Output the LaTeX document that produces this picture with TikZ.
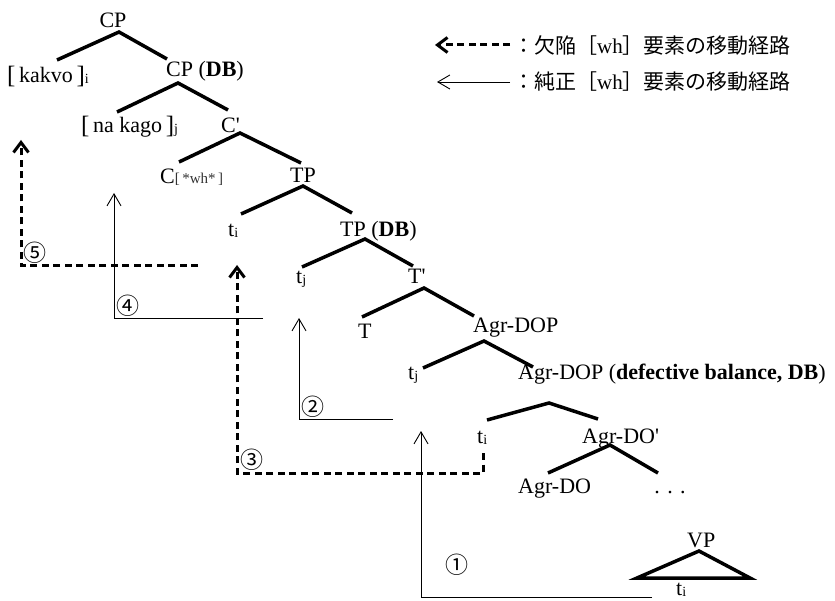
\documentclass[tikz,border=0pt]{standalone}
\usepackage{fontspec}
\setmainfont{Liberation Serif}
\newfontfamily\cjk{Noto Sans CJK JP}
\usetikzlibrary{arrows.meta}
\newcommand{\ssub}[1]{\raisebox{-1pt}{\fontsize{14}{14}\selectfont #1}}
\newcommand{\lbr}{{\fontsize{25}{25}\selectfont\raisebox{-0.5pt}{[}}}
\newcommand{\rbr}{{\fontsize{25}{25}\selectfont\raisebox{-0.5pt}{]}}}
\begin{document}
\begin{tikzpicture}[x=1pt,y=-1pt,
  lab/.style={inner sep=0pt, anchor=base west, font=\fontsize{22}{22}\selectfont},
  brn/.style={line width=3.5pt, line cap=butt},
  pure/.style={line width=0.9pt, -{Straight Barb[length=12pt,width=14pt]}},
  defect/.style={line width=3pt, dash pattern=on 7pt off 4.5pt, -{Straight Barb[length=10pt,width=15pt]}},
  num/.style={inner sep=0pt, font=\cjk\fontsize{23}{23}\selectfont},
  jp/.style={inner sep=0pt, anchor=west, font=\cjk\fontsize{21}{21}\selectfont}]
\useasboundingbox (0,0) rectangle (835,601);

% labels
\node[lab, anchor=base] (cp) at (113,28) {CP};
\node[lab] (kakvo) at (7,83) {\lbr\,kakvo\,\rbr\ssub{i}};
\node[lab] (cpdb) at (166,77) {CP (\textbf{DB})};
\node[lab] (nakago) at (81,133) {\lbr\,na kago\,\rbr\ssub{j}};
\node[lab] (cbar) at (221,133) {C\textquotesingle};
\node[lab] (c) at (160,184) {C{\fontsize{15}{15}\selectfont\color{black!80}[\,*wh*\,]}};
\node[lab] (tp) at (290,183) {TP};
\node[lab] (ti1) at (228,237) {t\ssub{i}};
\node[lab] (tpdb) at (340,237) {TP (\textbf{DB})};
\node[lab] (tj1) at (296,284) {t\ssub{j}};
\node[lab] (tbar) at (408,284) {T\textquotesingle};
\node[lab] (t) at (358,339) {T};
\node[lab] (agrdop) at (473,333) {Agr-DOP};
\node[lab] (tj2) at (408,380) {t\ssub{j}};
\node[lab] (agrdopdb) at (518,380) {Agr-DOP (\textbf{defective balance, DB})};
\node[lab] (ti2) at (477,443) {t\ssub{i}};
\node[lab] (agrdobar) at (582,443) {Agr-DO\textquotesingle};
\node[lab] (agrdo) at (518,493) {Agr-DO};
\node[lab, anchor=base] (dots) at (670,493) {.\,\,.\,\,.};
\node[lab] (vp) at (687,547) {VP};
\node[lab] (ti3) at (676,595) {t\ssub{i}};

% tree branches
\coordinate (cpA) at (119,32); \coordinate (cpL) at (57,60); \coordinate (cpR) at (167,59);
\coordinate (cdA) at (178,83); \coordinate (cdL) at (117,112); \coordinate (cdR) at (228,110);
\coordinate (cbA) at (240,133); \coordinate (cbL) at (179,162); \coordinate (cbR) at (301,163);
\coordinate (tpA) at (303,186); \coordinate (tpL) at (241,214); \coordinate (tpR) at (352,213);
\coordinate (tdA) at (365,239); \coordinate (tdL) at (302,267); \coordinate (tdR) at (413,266);
\coordinate (tbA) at (424,288); \coordinate (tbL) at (362,317); \coordinate (tbR) at (474,316);
\coordinate (adA) at (484,341); \coordinate (adL) at (423,368); \coordinate (adR) at (533,367);
\coordinate (abA) at (549,403); \coordinate (abL) at (487,420); \coordinate (abR) at (598,419);
\coordinate (aoA) at (610,445); \coordinate (aoL) at (548,473); \coordinate (aoR) at (658,473);
\foreach \n in {cp,cd,cb,tp,td,tb,ad,ab,ao}{
  \draw[brn] (\n L) -- (\n A) -- (\n R);
}
\coordinate (vpA) at (699,551); \coordinate (vpL) at (637,578); \coordinate (vpR) at (750,578);
\draw[line width=3.5pt, line join=miter] (vpA) -- (vpL) -- (vpR) -- cycle;

% movement arrows
\coordinate (m1s) at (652,597); \coordinate (m1c) at (421,597); \coordinate (m1e) at (421,431);
\draw[pure] (m1s) -- (m1c) -- (m1e);
\coordinate (m2s) at (393,419); \coordinate (m2c) at (299,419); \coordinate (m2e) at (299,318);
\draw[pure] (m2s) -- (m2c) -- (m2e);
\coordinate (m3s) at (483,453); \coordinate (m3a) at (483,473); \coordinate (m3c) at (237,473); \coordinate (m3e) at (237,265);
\draw[defect] (m3s) -- (m3a) -- (m3c) -- (m3e);
\coordinate (m4s) at (263,318); \coordinate (m4c) at (114,318); \coordinate (m4e) at (114,193);
\draw[pure] (m4s) -- (m4c) -- (m4e);
\coordinate (m5s) at (198,266); \coordinate (m5c) at (21,266); \coordinate (m5e) at (21,140);
\draw[defect] (m5s) -- (m5c) -- (m5e);

\node[num] (n1) at (457,565) {①};
\node[num] (n2) at (313,407) {②};
\node[num] (n3) at (252,460) {③};
\node[num] (n4) at (128,306) {④};
\node[num] (n5) at (35,253) {⑤};

% legend
\coordinate (l1s) at (510,45); \coordinate (l1e) at (435,45);
\draw[defect] (l1s) -- (l1e);
\node[jp] (leg1) at (513,45) {：欠陥［{\rmfamily wh}］要素の移動経路};
\coordinate (l2s) at (510,82); \coordinate (l2e) at (437,82);
\draw[pure] (l2s) -- (l2e);
\node[jp] (leg2) at (513,82) {：純正［{\rmfamily wh}］要素の移動経路};
\end{tikzpicture}
\end{document}
